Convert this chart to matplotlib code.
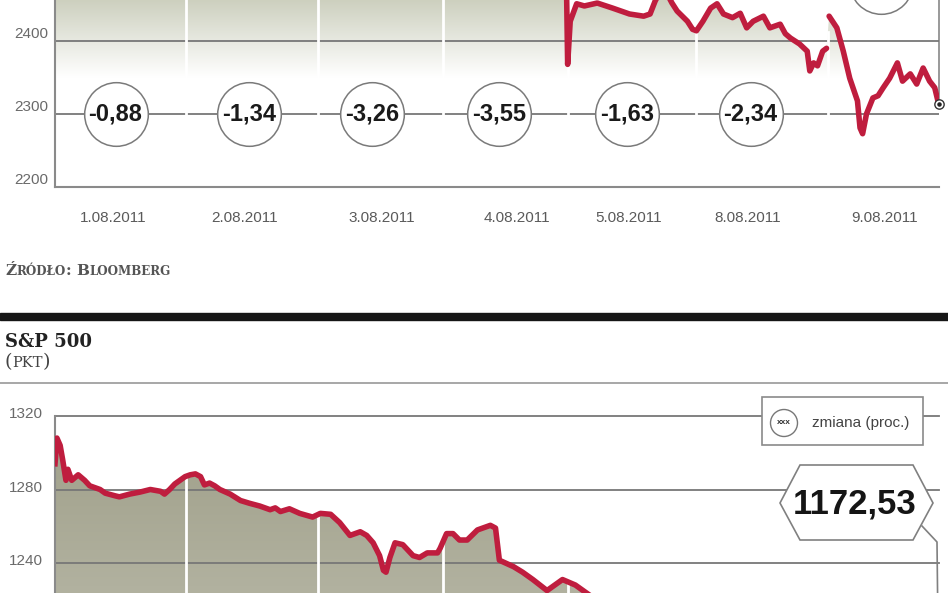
import numpy as np
import matplotlib
matplotlib.use('Agg')
import matplotlib.pyplot as plt
from matplotlib.patches import Polygon, Rectangle, Ellipse
from matplotlib.lines import Line2D
from matplotlib.transforms import blended_transform_factory

W, H = 948, 593

# x axis = trading days (1.08 -> 0, 2.08 -> 1, ... 9.08 -> 6), fraction = time of day
day_labels = ['1.08.2011', '2.08.2011', '3.08.2011', '4.08.2011', '5.08.2011', '8.08.2011', '9.08.2011']
day_label_pos = [0.45, 1.475, 2.54, 3.59, 4.45, 5.38, 6.44]
day_edges = [1.02, 2.04, 3.01, 3.98, 4.98, 6.0]

# upper index (only the bottom of it is visible)
wig_x = [0.0, 0.08, 0.25, 0.5, 0.75, 1.0, 1.25, 1.5, 1.75, 2.0, 2.3, 2.6, 2.85, 3.0, 3.3, 3.6, 3.85, 3.97,
         3.98, 4.0, 4.05, 4.11, 4.21, 4.33, 4.46, 4.57, 4.62, 4.66, 4.70, 4.76, 4.79, 4.83, 4.91, 4.95, 4.98,
         5.03, 5.09, 5.14, 5.19, 5.26, 5.32, 5.37, 5.42, 5.50, 5.55, 5.63, 5.67, 5.71, 5.78, 5.84, 5.86, 5.89,
         5.92, 5.96, 5.99,
         6.01, 6.07, 6.12, 6.17, 6.23, 6.25, 6.27, 6.30, 6.35, 6.39, 6.43, 6.48, 6.54, 6.58, 6.64, 6.69, 6.74,
         6.79, 6.83, 6.86]
wig_y = [2745, 2760, 2735, 2720, 2712, 2702, 2695, 2684, 2672, 2666, 2640, 2615, 2590, 2579, 2560, 2530, 2500, 2488,
         2368, 2427, 2451, 2448, 2452, 2445, 2437, 2434, 2437, 2455, 2468, 2462, 2452, 2441, 2427, 2416, 2414,
         2427, 2445, 2451, 2437, 2432, 2438, 2418, 2427, 2434, 2418, 2423, 2410, 2404, 2396, 2386, 2359, 2370,
         2366, 2386, 2390,
         2434, 2418, 2386, 2349, 2318, 2281, 2273, 2300, 2322, 2325, 2336, 2349, 2370, 2345, 2355, 2341, 2363,
         2345, 2336, 2314]
wig_session_break = 6.0
wig_ticks = [2200, 2300, 2400]

# daily change (proc.) circles
change_labels = ['-0,88', '-1,34', '-3,26', '-3,55', '-1,63', '-2,34', '']
change_x = [0.47, 1.51, 2.46, 3.45, 4.44, 5.40, 6.41]
change_y = [2300, 2300, 2300, 2300, 2300, 2300, 2481]

# S&P 500
sp_x = [0.0, 0.015, 0.04, 0.06, 0.085, 0.10, 0.13, 0.18, 0.23, 0.27, 0.31, 0.35, 0.39, 0.47, 0.50, 0.58,
        0.66, 0.74, 0.82, 0.85, 0.89, 0.93, 0.97, 1.01, 1.05, 1.09, 1.13, 1.16, 1.20, 1.24, 1.28, 1.36, 1.44,
        1.51, 1.59, 1.67, 1.71, 1.75, 1.82, 1.90, 2.0, 2.06, 2.14, 2.21, 2.29, 2.37, 2.42, 2.47, 2.52, 2.55,
        2.57, 2.60, 2.64, 2.70, 2.78, 2.83, 2.89, 2.97, 2.99, 3.04, 3.09, 3.14, 3.20, 3.28, 3.38, 3.42, 3.45,
        3.56, 3.63, 3.71, 3.82, 3.94, 4.04, 4.15, 4.3, 4.5, 4.6, 4.8, 5.0, 5.2, 5.5, 5.9, 6.1, 6.3, 6.5,
        6.7, 6.86]
sp_y = [1294, 1308, 1304, 1296, 1285, 1291, 1285, 1288, 1285, 1282, 1281, 1280, 1278, 1276.5, 1276, 1277.5,
        1278.6, 1280, 1279, 1277.5, 1280, 1283, 1285, 1287, 1288, 1288.5, 1287, 1282.5, 1283.5, 1282, 1280,
        1277.5, 1274, 1272.5, 1271, 1269, 1270, 1268, 1269.5, 1267, 1265, 1267, 1266.5, 1262, 1255, 1257, 1255,
        1251, 1244, 1236, 1235, 1243, 1251, 1250, 1244, 1243, 1245.5, 1245.5, 1248, 1256, 1256, 1252.5, 1252.5,
        1258, 1260.5, 1259, 1241.5, 1238, 1235, 1231, 1225, 1231, 1228, 1222.5, 1210, 1200, 1215, 1170, 1199,
        1180, 1150, 1119, 1110, 1101, 1140, 1165, 1172.53]
sp_ticks = [1240, 1280, 1320]
sp_last = '1172,53'

RED = '#bf1d3e'
GRID = '#777777'
SANS = 'Liberation Sans'
SERIF = 'DejaVu Serif'

fig = plt.figure(figsize=(W / 100, H / 100), dpi=100)
fig.patch.set_facecolor('white')


def fx(px):
    return px / W


def fy(py):
    return 1 - py / H


def gradient_fill(ax, x, y, v_white, v_ref, c_ref):
    xlo, xhi = ax.get_xlim()
    ylo, yhi = ax.get_ylim()
    poly = ax.fill_between(x, y, ylo, facecolor='none', edgecolor='none')
    vals = np.linspace(ylo, yhi, 500)
    t = np.clip((vals - v_white) / (v_ref - v_white), 0, None)
    col = 1 - t[:, None] * (1 - np.array(c_ref) / 255.0)
    col = np.clip(col, 0, 1)
    im = ax.imshow(col[:, None, :], extent=[xlo, xhi, ylo, yhi], origin='lower',
                   aspect='auto', zorder=1, interpolation='bilinear')
    im.set_clip_path(poly.get_paths()[0], transform=ax.transData)
    ax.set_xlim(xlo, xhi)
    ax.set_ylim(ylo, yhi)
    # white day separators inside the filled area
    for b in day_edges:
        top = np.interp(b, x, y)
        ax.plot([b, b], [ylo, top], color='white', lw=2.0, zorder=2.5)


def small_caps(x_px, y_px, text, big, small, gap=4, **kw):
    """Fake small caps: lowercase letters drawn as smaller capitals, word by word."""
    r = fig.canvas.get_renderer()
    x = x_px
    for word in text.split(' '):
        runs = []
        for ch in word:
            low = ch.islower()
            if runs and runs[-1][1] == low:
                runs[-1][0] += ch
            else:
                runs.append([ch, low])
        for s, low in runs:
            t = fig.text(fx(x), fy(y_px), s.upper() if low else s, size=small if low else big,
                         va='baseline', ha='left', **kw)
            x += t.get_window_extent(r).width
        x += gap


# ---------------- upper chart ----------------
ax1 = fig.add_axes([fx(55), fy(187), 883.6 / W, 600 * 0.73 / H])
ax1.set_xlim(0, 6.86)
ax1.set_ylim(2200, 2800)
ax1.set_facecolor('none')
gradient_fill(ax1, wig_x, wig_y, 2350, 2460, (203, 206, 188))

wx = np.array(wig_x)
wy = np.array(wig_y)
for m in (wx < wig_session_break, wx >= wig_session_break):
    ax1.plot(wx[m], wy[m], color=RED, lw=4.0, solid_joinstyle='round', solid_capstyle='round', zorder=3)

for v in wig_ticks[1:]:
    ax1.axhline(v, color=GRID, lw=1.3, zorder=2)
for s in ('top', 'right'):
    ax1.spines[s].set_visible(False)
for s in ('left', 'bottom'):
    ax1.spines[s].set_color('#8a8a8a')
    ax1.spines[s].set_linewidth(1.5)
ax1.set_xticks([])
ax1.set_yticks([])

tr_y = blended_transform_factory(fig.transFigure, ax1.transData)
for v in wig_ticks:
    ax1.text(fx(48), v + 10, str(v), transform=tr_y, ha='right', va='center',
             fontsize=11, color='#6a6a6a', family=SANS)

tr_x = blended_transform_factory(ax1.transData, fig.transFigure)
for pos, lab in zip(day_label_pos, day_labels):
    ax1.text(pos, fy(218), lab, transform=tr_x, ha='center', va='center',
             fontsize=11, color='#5a5a5a', family=SANS)

ax1.scatter(change_x, change_y, s=2100, facecolor='white', edgecolor='#7a7a7a', lw=1.1,
            zorder=4, clip_on=False)
for cx, cy, lab in zip(change_x, change_y, change_labels):
    ax1.text(cx, cy, lab, ha='center', va='center', fontsize=17, fontweight='bold',
             color='#1a1a1a', family=SANS, zorder=5)

# leader to last value + end marker
ax1.plot([wig_x[-1]] * 2, [wig_y[-1], 2800], color='#888888', lw=1.2, zorder=1.8, clip_on=False)
ax1.scatter([wig_x[-1]], [wig_y[-1]], s=45, facecolor='white', edgecolor='#333333', lw=1.0,
            zorder=6, clip_on=False)
ax1.scatter([wig_x[-1]], [wig_y[-1]], s=5, color='#222222', zorder=7, clip_on=False)

small_caps(5, 275, 'Źródło: Bloomberg', 11, 8.6, gap=5, family=SERIF, fontweight='bold', color='#555555')

# ---------------- separator / header ----------------
fig.add_artist(Rectangle((0, fy(320)), 1, 7 / H, color='#161616', transform=fig.transFigure))
fig.add_artist(Line2D([0, 1], [fy(383), fy(383)], color='#a0a0a0', lw=1.3, transform=fig.transFigure))
fig.text(fx(5), fy(347), 'S&P 500', family=SERIF, fontweight='bold', fontsize=13, color='#222222',
         va='baseline')
small_caps(5, 367, '(pkt)', 14, 10.5, family=SERIF, color='#444444')

# ---------------- S&P chart ----------------
sp_scale = 1.8375
ax2 = fig.add_axes([fx(55), fy(416) - 240 * sp_scale / H, 883.6 / W, 240 * sp_scale / H])
ax2.set_xlim(0, 6.86)
ax2.set_ylim(1080, 1320)
ax2.set_facecolor('none')
gradient_fill(ax2, sp_x, sp_y, 850, 1310, (160, 160, 138))
ax2.plot(sp_x, sp_y, color=RED, lw=4.0, solid_joinstyle='round', zorder=3)

for v in sp_ticks:
    ax2.axhline(v, color=GRID, lw=1.3, zorder=2.2, clip_on=False)
for s in ('top', 'right', 'bottom'):
    ax2.spines[s].set_visible(False)
ax2.spines['left'].set_color('#8a8a8a')
ax2.spines['left'].set_linewidth(1.5)
ax2.set_xticks([])
ax2.set_yticks([])

tr_y2 = blended_transform_factory(fig.transFigure, ax2.transData)
for v in sp_ticks:
    ax2.text(fx(43), v + 1, str(v), transform=tr_y2, ha='right', va='center',
             fontsize=11, color='#6a6a6a', family=SANS)

# legend box
fig.add_artist(Rectangle((fx(762), fy(445)), 161 / W, 48 / H, facecolor='white', edgecolor='#8a8a8a',
                         lw=1.2, transform=fig.transFigure, zorder=5))
fig.add_artist(Ellipse((fx(784), fy(423)), 27 / W, 27 / H, facecolor='white',
                       edgecolor='#777777', lw=1.0, transform=fig.transFigure, zorder=6))
fig.text(fx(784), fy(423), 'xxx', ha='center', va='center', fontsize=6, fontweight='bold',
         family=SANS, color='#333333', zorder=7)
fig.text(fx(812), fy(423), 'zmiana (proc.)', ha='left', va='center', fontsize=11,
         family=SANS, color='#444444', zorder=7)

# last value hexagon + leader
hexagon = [(780, 503), (800, 465), (913, 465), (933, 503), (913, 540), (800, 540)]
fig.add_artist(Polygon([(fx(a), fy(b)) for a, b in hexagon], closed=True, facecolor='white',
                       edgecolor='#808080', lw=1.2, transform=fig.transFigure, zorder=5))
fig.text(fx(855), fy(504), sp_last, ha='center', va='center', fontsize=25, fontweight='bold',
         family=SANS, color='#151515', zorder=7)
end_disp = ax2.transData.transform((sp_x[-1], sp_y[-1]))
fig.add_artist(Line2D([fx(922), fx(937), end_disp[0] / W],
                      [fy(526), fy(542), end_disp[1] / H],
                      color='#808080', lw=1.2, transform=fig.transFigure, zorder=4))

fig.savefig('out.png', dpi=100, facecolor='white')
